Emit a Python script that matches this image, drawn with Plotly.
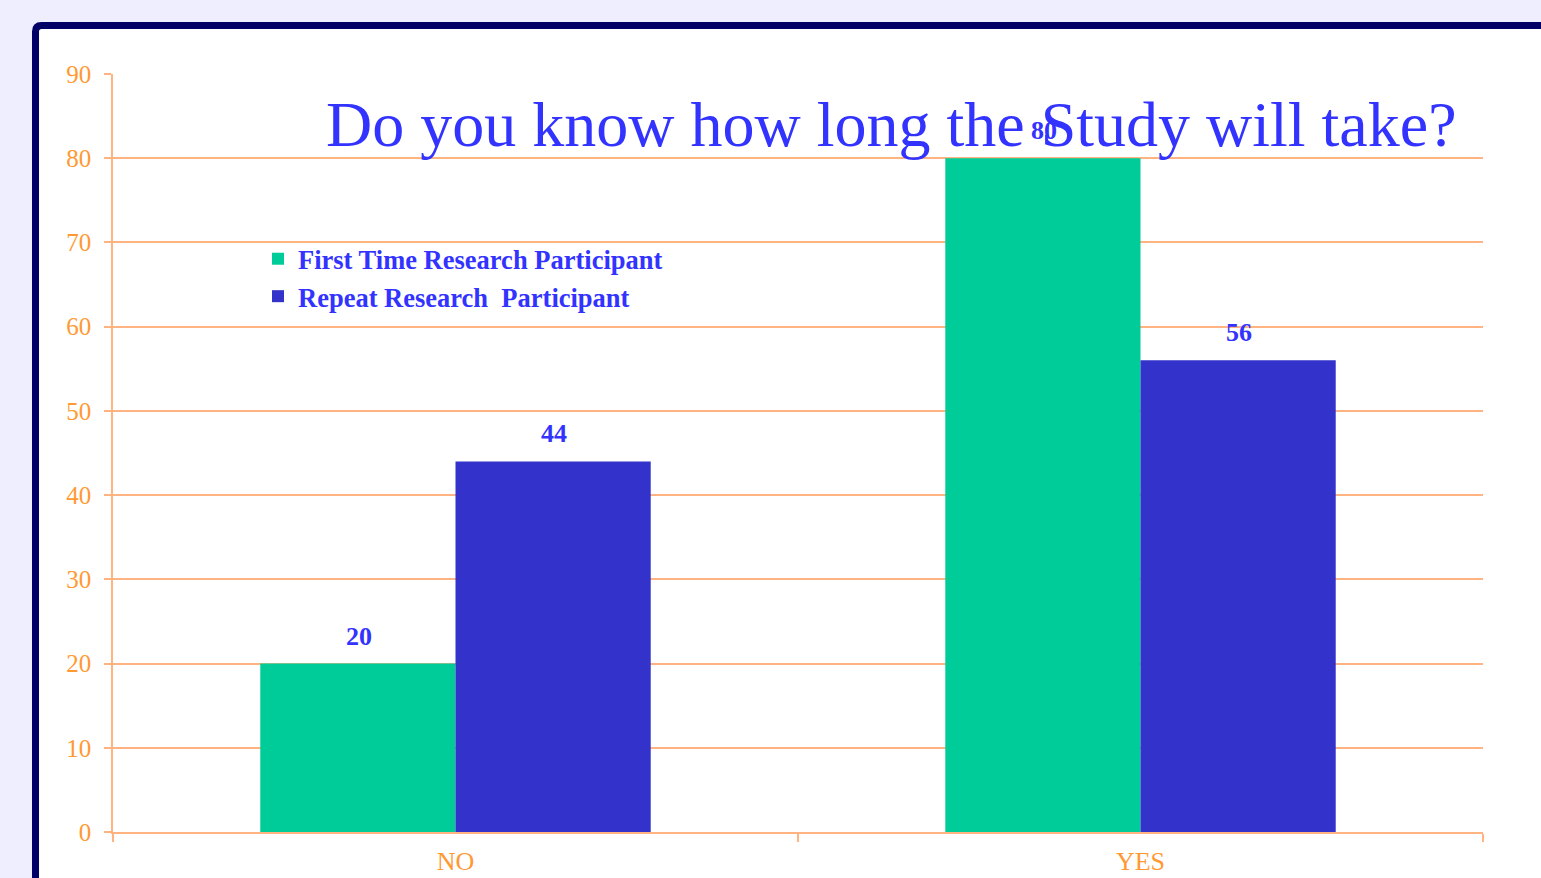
import plotly.graph_objects as go

categories = ["NO", "YES"]
series_names = ["First Time Research Participant", "Repeat Research  Participant"]
first_time = [20, 80]
repeat = [44, 56]
y_ticks = [0, 10, 20, 30, 40, 50, 60, 70, 80, 90]
title_text = "Do you know how long the Study will take?"

W, H = 1541, 878
L, R, T, B = 113, 1483, 74, 832

def X(px):
    return (px - L) / (R - L)

def Y(py):
    return (B - py) / (B - T)

GREEN = "#00CC99"
BLUE = "#3333CC"
TXT = "#3333FF"
ORANGE = "#FF9933"
PEACH = "#FFB380"
SERIF = "Liberation Serif, Times New Roman, serif"

fig = go.Figure()
fig.add_trace(go.Bar(x=categories, y=first_time, name=series_names[0],
                     marker=dict(color=GREEN, line=dict(width=0)), legendgroup="a"))
fig.add_trace(go.Bar(x=categories, y=repeat, name=series_names[1],
                     marker=dict(color=BLUE, line=dict(width=0)), legendgroup="b"))

# data labels
for vals, shift in ((first_time, -97), (repeat, 98)):
    for c, v in zip(categories, vals):
        fig.add_annotation(x=c, y=v, text=f"<b>{v}</b>", showarrow=False,
                           xshift=shift, yshift=11, yanchor="bottom",
                           font=dict(family=SERIF, size=26, color=TXT))

# title
fig.add_annotation(xref="paper", yref="paper", x=X(891), y=Y(124),
                   text=title_text, showarrow=False, xanchor="center", yanchor="middle",
                   font=dict(family=SERIF, size=64, color=TXT))

# panel with navy border
r = 6
path = (f"M {X(35.5)},{Y(900)} L {X(35.5)},{Y(25.5 + r)} "
        f"Q {X(35.5)},{Y(25.5)} {X(35.5 + r)},{Y(25.5)} "
        f"L {X(1600)},{Y(25.5)} L {X(1600)},{Y(900)} Z")
fig.add_shape(type="path", path=path, xref="paper", yref="paper",
              fillcolor="white", line=dict(color="#000066", width=7), layer="below")

fig.update_layout(
    width=W, height=H,
    margin=dict(l=L, r=W - R, t=T, b=H - B, autoexpand=False),
    paper_bgcolor="#EEEEFF",
    plot_bgcolor="rgba(0,0,0,0)",
    barmode="group", bargap=0.43, bargroupgap=0,
    showlegend=True,
    legend=dict(x=X(258), y=Y(235), xanchor="left", yanchor="top",
                bgcolor="rgba(0,0,0,0)", tracegroupgap=0, traceorder="grouped",
                font=dict(family=SERIF, size=26.5, color=TXT, weight="bold")),
    xaxis=dict(type="category", showgrid=False, showline=True, linecolor=PEACH, linewidth=1.5,
               automargin=False,
               ticks="outside", tickson="boundaries", ticklen=8, tickcolor=PEACH, tickwidth=1.5,
               ticklabelstandoff=5,
               tickfont=dict(family=SERIF, size=26, color=ORANGE)),
    yaxis=dict(range=[0, 90], tickvals=y_ticks, showgrid=True, gridcolor=PEACH, gridwidth=1.5,
               automargin=False,
               showline=True, linecolor=PEACH, linewidth=1.5, zeroline=False,
               ticks="outside", ticklen=7, tickcolor=PEACH, tickwidth=1.5,
               ticklabelstandoff=8,
               tickfont=dict(family=SERIF, size=25, color=ORANGE)),
)

fig.write_html("out.html")
